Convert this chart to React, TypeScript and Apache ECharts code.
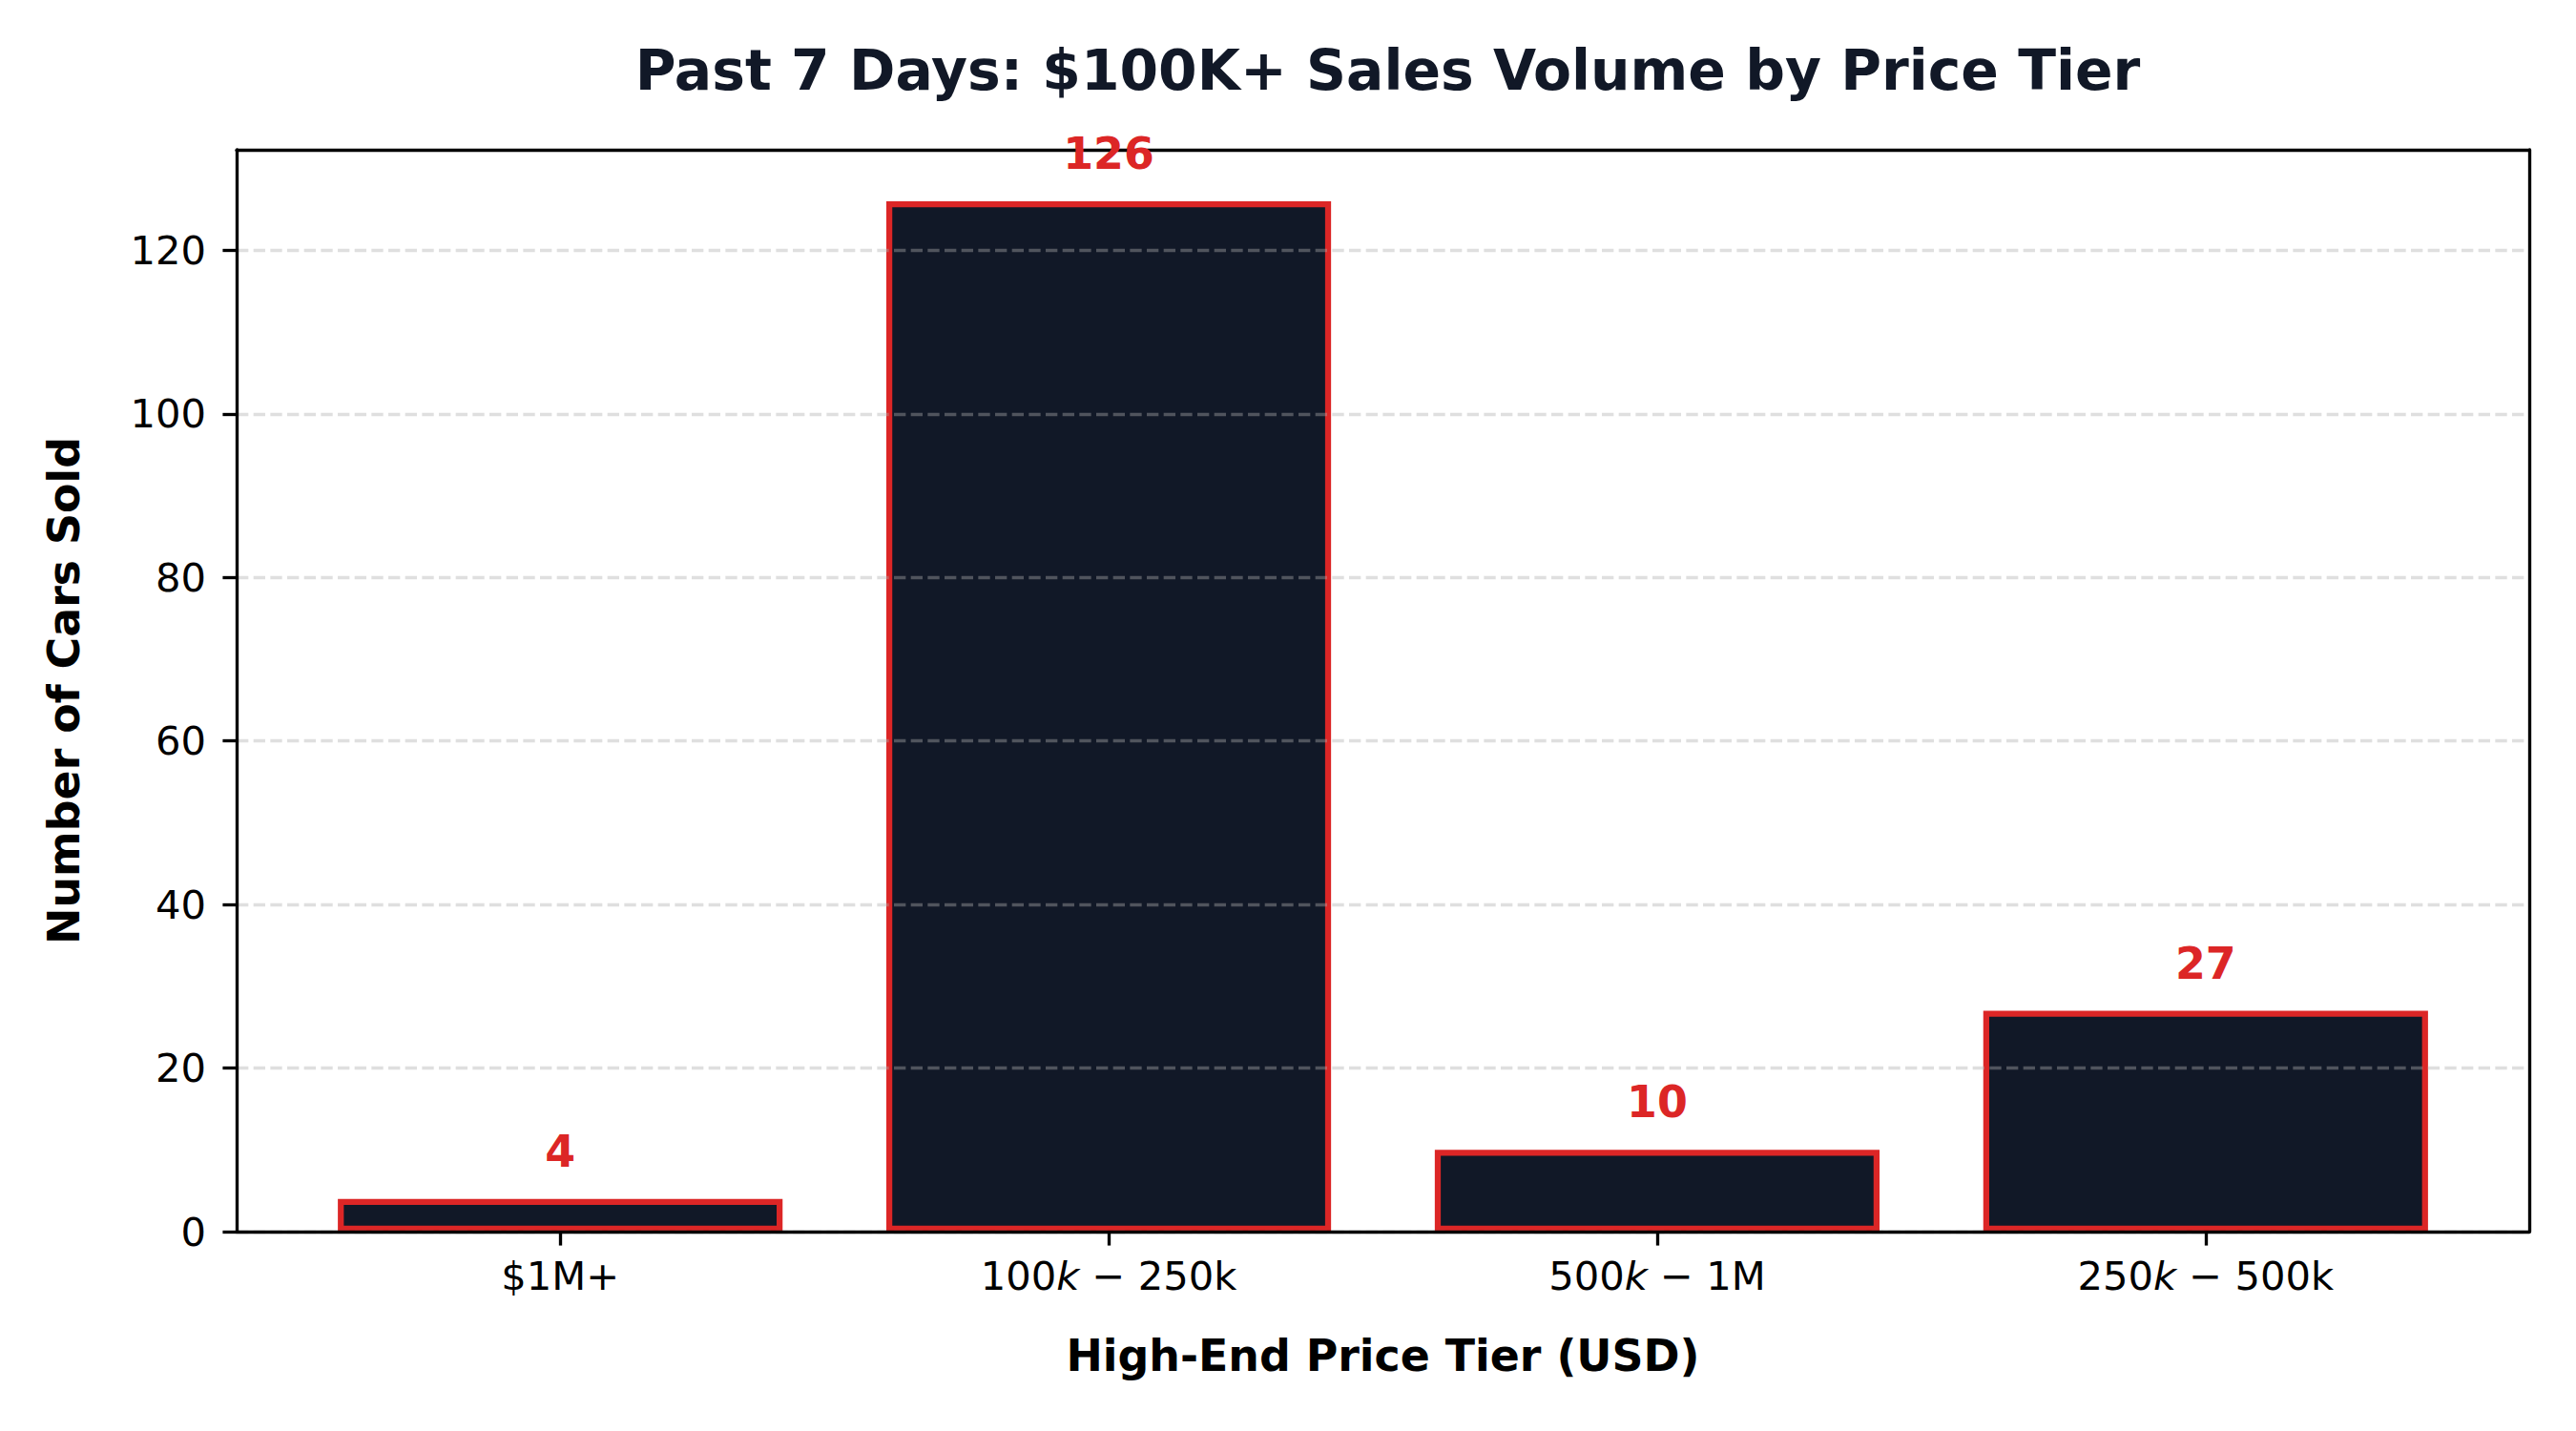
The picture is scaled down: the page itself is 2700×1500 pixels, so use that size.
import { useEffect, useRef } from 'react'
import * as echarts from 'echarts'

// chart data
const tiers = ['$1M+', '$100k-$250k', '$500k-$1M', '$250k-$500k']
const carsSold = [4, 126, 10, 27]
const yTicks = [0, 20, 40, 60, 80, 100, 120]

const FONT = 'DejaVu Sans'
const PT = 300 / 72 // figure was 300 dpi
const EDGE = 1.5 * PT // bar outline width

// plot box in page pixels
const BOX = { left: 248, top: 157, right: 2651, bottom: 1291 }

// matplotlib turned "$...$" pairs into mathtext: letters italic, "-" a minus sign
function tickText(raw: string): string {
  const parts = raw.split('$')
  if (parts.length < 3) return raw
  const math = parts[1].replace(/[a-zA-Z]/g, (c) => `{it|${c}}`).replace(/-/g, ' \u2212 ')
  return parts[0] + math + parts.slice(2).join('$')
}

function App() {
  const chartRef = useRef<HTMLDivElement>(null)

  useEffect(() => {
    const chart = echarts.init(chartRef.current, null, { renderer: 'svg' })

    const yMax = Math.max(...carsSold) * 1.05
    const xMin = -0.4 - 0.05 * (tiers.length - 0.2)
    const xMax = tiers.length - 0.6 + 0.05 * (tiers.length - 0.2)
    // echarts draws the outline inside the bar, matplotlib centres it on the edge
    const barPx = ((BOX.right - BOX.left) / (xMax - xMin)) * 0.8 + EDGE
    const points = carsSold.map((v, i) => [i, v])
    const tickIdx = tiers.map((_, i) => i)
    const spine = { show: true, onZero: false, lineStyle: { color: '#000', width: 0.8 * PT } }

    chart.setOption({
      animation: false,
      backgroundColor: '#fff',
      title: {
        text: 'Past 7 Days: $100K+ Sales Volume by Price Tier',
        left: (BOX.left + BOX.right) / 2,
        textAlign: 'center',
        top: 40,
        textStyle: {
          fontFamily: FONT,
          fontWeight: 'bold',
          fontSize: 14 * PT,
          lineHeight: 14 * PT,
          color: '#111827'
        }
      },
      grid: {
        left: BOX.left,
        top: BOX.top,
        right: 2700 - BOX.right,
        bottom: 1500 - BOX.bottom,
        outerBoundsMode: 'none'
      },
      xAxis: [
        {
          type: 'value',
          min: xMin,
          max: xMax,
          axisLine: spine,
          axisTick: {
            show: true,
            customValues: tickIdx,
            length: 3.5 * PT,
            lineStyle: { color: '#000', width: 0.8 * PT }
          },
          axisLabel: {
            customValues: tickIdx,
            margin: 25,
            formatter: (v: number) => tickText(tiers[Math.round(v)] ?? ''),
            fontFamily: FONT,
            fontSize: 10 * PT,
            color: '#000',
            rich: {
              it: { fontFamily: FONT, fontSize: 10 * PT, fontStyle: 'italic', color: '#000' }
            }
          },
          splitLine: { show: false },
          name: 'High-End Price Tier (USD)',
          nameLocation: 'middle',
          nameGap: 107,
          nameTextStyle: { fontFamily: FONT, fontWeight: 'bold', fontSize: 11 * PT, color: '#000' },
          z: 4
        },
        {
          type: 'value',
          position: 'top',
          min: xMin,
          max: xMax,
          axisLine: spine,
          axisTick: { show: false },
          axisLabel: { show: false },
          splitLine: { show: false },
          z: 4
        }
      ],
      yAxis: [
        {
          type: 'value',
          min: 0,
          max: yMax,
          axisLine: spine,
          axisTick: {
            show: true,
            customValues: yTicks,
            length: 3.5 * PT,
            lineStyle: { color: '#000', width: 0.8 * PT }
          },
          axisLabel: {
            customValues: yTicks,
            margin: 32,
            fontFamily: FONT,
            fontSize: 10 * PT,
            color: '#000'
          },
          splitLine: {
            show: true,
            lineStyle: {
              color: 'rgba(176,176,176,0.4)',
              width: 0.8 * PT,
              type: [3.7 * 0.8 * PT, 1.6 * 0.8 * PT]
            }
          },
          name: 'Number of Cars Sold',
          nameLocation: 'middle',
          nameGap: 158,
          nameTextStyle: { fontFamily: FONT, fontWeight: 'bold', fontSize: 11 * PT, color: '#000' },
          z: 3
        },
        {
          type: 'value',
          position: 'right',
          min: 0,
          max: yMax,
          axisLine: spine,
          axisTick: { show: false },
          axisLabel: { show: false },
          splitLine: { show: false },
          z: 4
        }
      ],
      series: [
        {
          type: 'bar',
          data: points,
          barWidth: barPx,
          itemStyle: { color: '#111827', borderColor: '#dc2626', borderWidth: EDGE },
          z: 2
        },
        {
          // value labels above the bars, kept above the frame
          type: 'scatter',
          data: points,
          symbolSize: 0,
          itemStyle: { opacity: 1 },
          label: {
            show: true,
            position: 'top',
            distance: 27,
            opacity: 1,
            formatter: (p: any) => String(p.value[1]),
            fontFamily: FONT,
            fontWeight: 'bold',
            fontSize: 11 * PT,
            color: '#dc2626'
          },
          z: 5
        }
      ]
    })

    return () => {
      chart.dispose()
    }
  }, [])

  return (
    <div
      ref={chartRef}
      style={{ position: 'fixed', left: 0, top: 0, width: '2700px', height: '1500px', background: '#fff' }}
    ></div>
  )
}

export default App
